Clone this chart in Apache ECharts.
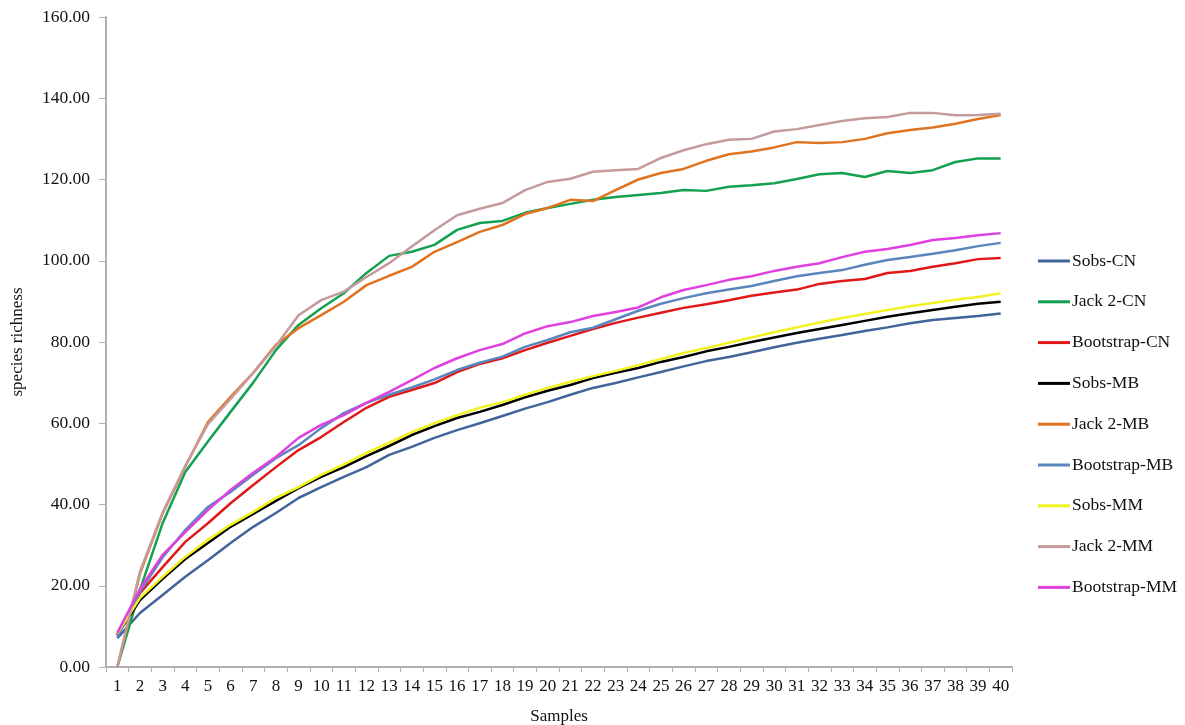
<!DOCTYPE html>
<html>
<head>
<meta charset="utf-8">
<script src="https://cdn.jsdelivr.net/npm/echarts@6/dist/echarts.min.js"></script>
<style>html,body{margin:0;padding:0;background:#fff;}#c{width:1185px;height:725px;}</style>
</head>
<body>
<div id="c"></div>
<script>
const samples = Array.from({length: 40}, (_, i) => String(i + 1));
const yTicks = [0, 20, 40, 60, 80, 100, 120, 140, 160];

const sobsCN = [7.1,13.3,17.7,22.2,26.3,30.5,34.5,37.9,41.6,44.3,46.8,49.2,52.2,54.2,56.4,58.3,60,61.8,63.6,65.2,67,68.7,69.9,71.3,72.6,74,75.3,76.3,77.5,78.7,79.8,80.8,81.7,82.7,83.6,84.6,85.4,85.9,86.4,87];
const jack2CN = [0,19,35.4,48,55.5,62.8,70,78,84.2,88.3,92,97,101.2,102.2,103.9,107.6,109.3,109.8,111.8,113,114,115,115.7,116.2,116.7,117.4,117.2,118.2,118.6,119.1,120.1,121.3,121.6,120.6,122.1,121.6,122.3,124.3,125.2,125.2];
const bootCN = [7.9,18.2,24.6,30.8,35.4,40.3,44.8,49.2,53.4,56.6,60.3,63.8,66.5,68.2,69.9,72.6,74.6,76,78,79.8,81.5,83.2,84.7,86,87.2,88.4,89.3,90.3,91.4,92.2,92.9,94.3,95,95.5,97,97.5,98.5,99.4,100.4,100.7];
const sobsMB = [7.9,16.5,21.7,26.6,30.5,34.5,37.7,40.9,44,46.8,49.2,51.9,54.4,57.1,59.3,61.3,62.8,64.5,66.4,68,69.4,71.1,72.4,73.6,75.1,76.3,77.7,78.8,80,81.1,82.2,83.2,84.2,85.2,86.2,87.1,87.9,88.7,89.4,89.9];
const jack2MB = [0,23,37.8,49.3,60.3,66.5,72.4,79.3,83.4,86.6,89.9,94,96.3,98.5,102.2,104.6,107.1,108.8,111.5,113,115,114.7,117.4,120,121.6,122.6,124.6,126.2,126.9,127.9,129.2,129,129.2,130,131.4,132.2,132.8,133.7,134.9,135.9];
const bootMB = [7.4,18.5,27,33.7,39.4,43.1,47.3,51.4,54.6,58.8,62.5,65,67,68.8,70.8,73.1,74.9,76.4,78.8,80.5,82.4,83.5,85.6,87.7,89.4,90.8,92,92.9,93.8,95,96.2,97,97.7,99,100.2,100.9,101.7,102.6,103.6,104.4];
const sobsMM = [8.2,17,22.2,27.1,31.3,35,38.2,41.6,44.3,47.3,49.9,52.7,55.2,57.8,60,62,63.8,65.2,67,68.7,70.2,71.6,72.9,74.3,75.8,77.3,78.5,79.8,81.1,82.4,83.6,84.8,85.9,86.9,87.9,88.8,89.6,90.4,91.1,92];
const jack2MM = [0,23.5,38,49.5,59.8,66,72.4,79,86.6,90.3,92.4,96,99.4,103.5,107.5,111.2,112.8,114.2,117.4,119.4,120.2,121.9,122.3,122.6,125.3,127.2,128.7,129.8,130,131.8,132.4,133.4,134.4,135.1,135.4,136.4,136.4,135.8,135.9,136.2];
const bootMM = [8.4,19.2,27.6,33.2,38.6,43.6,47.8,51.7,56.4,59.6,62,65,67.7,70.6,73.6,76,78,79.5,82.1,83.9,84.9,86.4,87.4,88.5,91,92.8,94,95.3,96.2,97.5,98.5,99.4,100.9,102.2,102.9,103.9,105.1,105.6,106.3,106.8];

const seriesNames = ['Sobs-CN','Jack 2-CN','Bootstrap-CN','Sobs-MB','Jack 2-MB','Bootstrap-MB','Sobs-MM','Jack 2-MM','Bootstrap-MM'];
const seriesData = [sobsCN, jack2CN, bootCN, sobsMB, jack2MB, bootMB, sobsMM, jack2MM, bootMM];
const colors = ['#41659A','#13A050','#E01818','#000000','#E07320','#5A86BE','#F2F222','#C49A9C','#E040E0'];

const font = '"Liberation Serif", "DejaVu Serif", serif';
const chart = echarts.init(document.getElementById('c'), null, {renderer: 'canvas'});
chart.setOption({
  animation: false,
  backgroundColor: '#ffffff',
  color: colors,
  grid: {left: 106, right: 173, top: 17, bottom: 58, containLabel: false, outerBoundsMode: 'none'},
  legend: {
    orient: 'vertical',
    left: 1033,
    top: 247,
    icon: 'rect',
    itemWidth: 32,
    itemHeight: 3,
    itemGap: 22.8,
    data: seriesNames,
    textStyle: {fontFamily: font, fontSize: 17.5, color: '#111', lineHeight: 16, padding: [0,0,0,-3]}
  },
  xAxis: {
    type: 'category',
    data: samples,
    boundaryGap: true,
    name: 'Samples',
    nameLocation: 'middle',
    nameGap: 41,
    nameTextStyle: {fontFamily: font, fontSize: 17, color: '#111'},
    axisLine: {lineStyle: {color: '#B0B0B0', width: 2}},
    axisTick: {show: true, alignWithLabel: false, length: 5, lineStyle: {color: '#B0B0B0'}},
    axisLabel: {interval: 0, margin: 11, fontFamily: font, fontSize: 17, color: '#111'},
    splitLine: {show: false}
  },
  yAxis: {
    type: 'value',
    min: yTicks[0],
    max: yTicks[yTicks.length - 1],
    interval: yTicks[1] - yTicks[0],
    name: 'species richness',
    nameLocation: 'middle',
    nameRotate: 90,
    nameGap: 80,
    nameTextStyle: {fontFamily: font, fontSize: 17, color: '#111'},
    axisLine: {show: true, lineStyle: {color: '#B0B0B0', width: 2}},
    axisTick: {show: true, length: 7, lineStyle: {color: '#B0B0B0'}},
    axisLabel: {margin: 16, fontFamily: font, fontSize: 17.5, color: '#111', formatter: v => v.toFixed(2)},
    splitLine: {show: false}
  },
  series: seriesNames.map((n, i) => ({
    name: n,
    type: 'line',
    data: seriesData[i],
    symbol: 'none',
    showSymbol: false,
    lineStyle: {width: 2.5, color: colors[i]},
    itemStyle: {color: colors[i]}
  }))
});
</script>
</body>
</html>
